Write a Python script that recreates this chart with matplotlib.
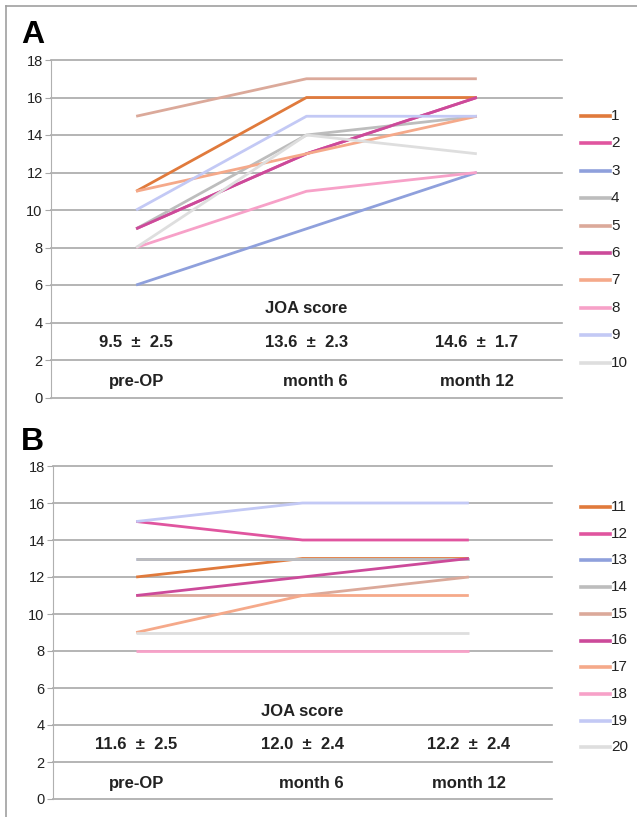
import numpy as np
import matplotlib.pyplot as plt
from matplotlib.lines import Line2D

plt.rcParams['font.family'] = ['Liberation Sans', 'DejaVu Sans']

timepoints = ['pre-OP', 'month 6', 'month 12']

# panel A, patients 1-10
labels_a = [str(i) for i in range(1, 11)]
scores_a = [
    [11, 16, 16],
    [9, 13, 16],
    [6, 9, 12],
    [9, 14, 15],
    [15, 17, 17],
    [9, 13, 16],
    [11, 13, 15],
    [8, 11, 12],
    [10, 15, 15],
    [8, 14, 13],
]
means_a = ['9.5  \u00b1  2.5', '13.6  \u00b1  2.3', '14.6  \u00b1  1.7']

# panel B, patients 11-20
labels_b = [str(i) for i in range(11, 21)]
scores_b = [
    [12, 13, 13],
    [15, 14, 14],
    [13, 13, 13],
    [13, 13, 13],
    [11, 11, 12],
    [11, 12, 13],
    [9, 11, 11],
    [8, 8, 8],
    [15, 16, 16],
    [9, 9, 9],
]
means_b = ['11.6  \u00b1  2.5', '12.0  \u00b1  2.4', '12.2  \u00b1  2.4']

colors = ['#e07a3c', '#e0559f', '#8fa0dc', '#bdbdbd', '#dba99a',
          '#cc4a9a', '#f5a98a', '#f7a1c8', '#c3c9f5', '#dedede']

W, H = 637, 817
fig = plt.figure(figsize=(W / 100, H / 100), dpi=100)


def px_axes(left, right, top, bottom):
    return fig.add_axes([left / W, 1 - bottom / H, (right - left) / W, (bottom - top) / H])


def draw_panel(ax, scores, labels, means, leg_top, leg_step):
    x = np.arange(len(timepoints))
    for s, c in zip(scores, colors):
        ax.plot(x, s, color=c, lw=2.0, solid_capstyle='butt', zorder=3)
    ax.set_xlim(-0.5, 2.5)
    ax.set_ylim(0, 18)
    ax.set_yticks(range(0, 19, 2))
    ax.set_xticks([])
    ax.grid(axis='y', color='#a8a8a8', lw=1.2)
    for gl in ax.get_ygridlines():
        gl.set_clip_on(False)
    ax.set_axisbelow(True)
    for side in ['top', 'right', 'bottom']:
        ax.spines[side].set_visible(False)
    ax.spines['left'].set_color('#b0b0b0')
    ax.tick_params(axis='y', length=4, color='#a8a8a8', labelsize=10.5,
                   labelcolor='#222222', pad=2)
    ax.text(1, 4.75, 'JOA score', ha='center', va='center', fontsize=12,
            fontweight='bold', color='#222222')
    for i, (m, t) in enumerate(zip(means, timepoints)):
        ax.text(i, 2.95, m, ha='center', va='center', fontsize=12,
                fontweight='bold', color='#222222')
        ax.text(i + (0.05 if i == 1 else 0), 0.85, t, ha='center', va='center',
                fontsize=12, fontweight='bold', color='#222222')
    # legend entries on the right
    for j, (lab, c) in enumerate(zip(labels, colors)):
        yy = leg_top + j * leg_step
        fig.add_artist(Line2D([581 / W, 610 / W], [1 - yy / H, 1 - yy / H],
                              color=c, lw=2.6))
        fig.text(611 / W, 1 - yy / H, lab, ha='left', va='center',
                 fontsize=11, color='#222222')


ax_a = px_axes(51, 562, 60, 397.5)
draw_panel(ax_a, scores_a, labels_a, means_a, 116, 27.4)

ax_b = px_axes(53, 552, 466, 799)
draw_panel(ax_b, scores_b, labels_b, means_b, 507, 26.7)

fig.text(21 / W, 1 - 35 / H, 'A', fontsize=23, fontweight='bold', va='center', ha='left')
fig.text(21 / W, 1 - 442 / H, 'B', fontsize=23, fontweight='bold', va='center', ha='left')

# outer frame (open on right and bottom)
fig.add_artist(Line2D([6 / W, 1], [1 - 6 / H, 1 - 6 / H], color='#a0a0a0', lw=1.2))
fig.add_artist(Line2D([6 / W, 6 / W], [0, 1 - 6 / H], color='#a0a0a0', lw=1.2))

fig.savefig('out.png', dpi=100)
